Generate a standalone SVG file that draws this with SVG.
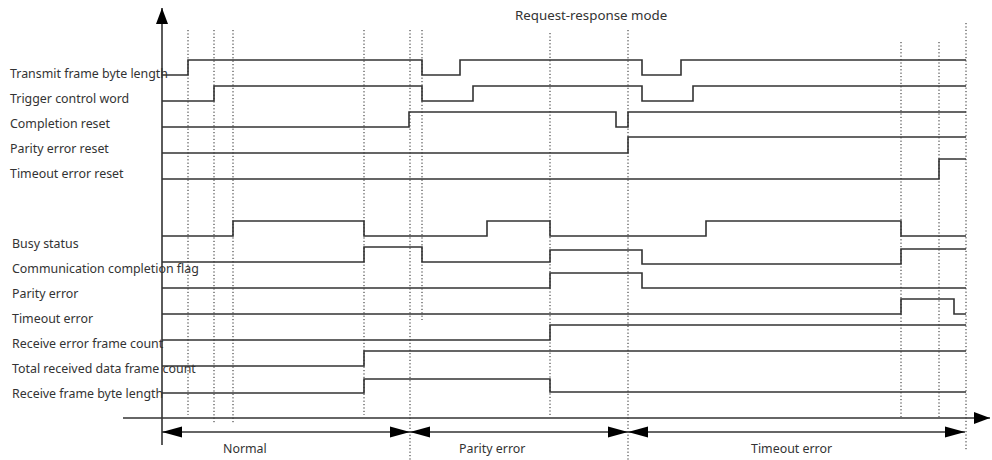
<svg xmlns="http://www.w3.org/2000/svg" width="992" height="460" viewBox="0 0 992 460">
<defs>
<style>
.sig{fill:none;stroke:#333;stroke-width:1.6}
.lbl{font-family:"Noto Sans","Open Sans",sans-serif;font-size:12.4px;fill:#333}
.dot{stroke:#222;stroke-width:1;stroke-dasharray:1.2,2.2}
.ax{stroke:#333;stroke-width:1.6;fill:none}
</style>
<marker id="ah" markerUnits="userSpaceOnUse" markerWidth="20" markerHeight="12" viewBox="0 0 18 10" refX="18" refY="5" orient="auto-start-reverse">
<path d="M0,0 L18,5 L0,10 Z" fill="#000"/>
</marker>
<marker id="ah2" markerUnits="userSpaceOnUse" markerWidth="16" markerHeight="12" viewBox="0 0 16 12" refX="16" refY="6" orient="auto">
<path d="M0,0 L16,6 L0,12 Z" fill="#000"/>
</marker>
</defs>
<rect width="992" height="460" fill="#fff"/>
<text class="lbl" x="515" y="20" style="font-size:13.3px">Request-response mode</text>
<g id="dotted">
<line class="dot" x1="188" y1="30" x2="188" y2="415"/>
<line class="dot" x1="214" y1="30" x2="214" y2="423"/>
<line class="dot" x1="233" y1="30" x2="233" y2="423"/>
<line class="dot" x1="364" y1="30" x2="364" y2="415"/>
<line class="dot" x1="410" y1="30" x2="410" y2="460"/>
<line class="dot" x1="422" y1="30" x2="422" y2="320"/>
<line class="dot" x1="550" y1="33" x2="550" y2="415"/>
<line class="dot" x1="628" y1="30" x2="628" y2="460"/>
<line class="dot" x1="901" y1="42" x2="901" y2="417"/>
<line class="dot" x1="939" y1="42" x2="939" y2="417"/>
<line class="dot" x1="966" y1="23" x2="966" y2="450"/>
</g>
<g id="tx-len"><path class="sig" d="M162,75 H188 V60 H422 V75 H460 V60 H642 V75 H681 V60 H966"/><text class="lbl" x="10" y="78">Transmit frame byte length</text></g>
<g id="trigger"><path class="sig" d="M162,101 H214 V86 H422 V101 H473 V86 H642 V101 H693 V86 H966"/><text class="lbl" x="10" y="103">Trigger control word</text></g>
<g id="completion-reset"><path class="sig" d="M162,127 H409 V112 H616 V127 H628 V112 H966"/><text class="lbl" x="10" y="128">Completion reset</text></g>
<g id="parity-reset"><path class="sig" d="M162,153 H628 V137 H966"/><text class="lbl" x="10" y="153">Parity error reset</text></g>
<g id="timeout-reset"><path class="sig" d="M162,179 H939 V159 H966"/><text class="lbl" x="10" y="178">Timeout error reset</text></g>
<g id="busy"><path class="sig" d="M162,236 H233 V221 H364 V236 H487 V221 H550 V236 H706 V221 H901 V236 H966"/><text class="lbl" x="12" y="248">Busy status</text></g>
<g id="comm-flag"><path class="sig" d="M162,262 H364 V247 H422 V262 H550 V250 H642 V264 H901 V249 H966"/><text class="lbl" x="12" y="273">Communication completion flag</text></g>
<g id="parity-error"><path class="sig" d="M162,288 H550 V273 H642 V288 H966"/><text class="lbl" x="12" y="298">Parity error</text></g>
<g id="timeout-error"><path class="sig" d="M162,314 H901 V299 H954 V314 H966"/><text class="lbl" x="12" y="323">Timeout error</text></g>
<g id="rx-err-count"><path class="sig" d="M162,340 H550 V325 H966"/><text class="lbl" x="12" y="348">Receive error frame count</text></g>
<g id="rx-total-count"><path class="sig" d="M162,366 H364 V351 H966"/><text class="lbl" x="12" y="373">Total received data frame count</text></g>
<g id="rx-len"><path class="sig" d="M162,393 H364 V379 H550 V392 H966"/><text class="lbl" x="12" y="398">Receive frame byte length</text></g>
<g id="connectors">
<line class="ax" x1="162" y1="445" x2="162" y2="8" marker-end="url(#ah2)"/>
<line class="ax" x1="123" y1="418" x2="990" y2="418" marker-end="url(#ah2)"/>
<line class="ax" x1="162" y1="432" x2="410" y2="432" marker-start="url(#ah)" marker-end="url(#ah)"/>
<line class="ax" x1="410" y1="432" x2="628" y2="432" marker-start="url(#ah)" marker-end="url(#ah)"/>
<line class="ax" x1="628" y1="432" x2="965" y2="432" marker-start="url(#ah)" marker-end="url(#ah)"/>
</g>
<g id="phase-labels">
<text class="lbl" x="223" y="453">Normal</text>
<text class="lbl" x="459" y="453">Parity error</text>
<text class="lbl" x="751" y="453">Timeout error</text>
</g>
</svg>
